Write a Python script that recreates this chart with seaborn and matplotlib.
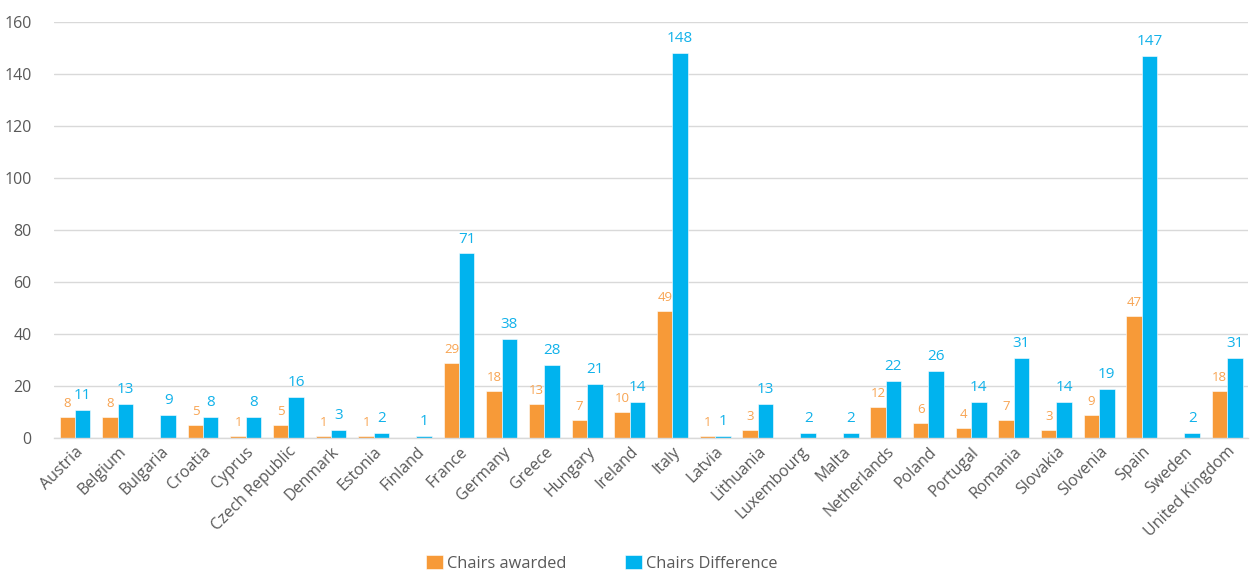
import matplotlib
matplotlib.use("Agg")
import matplotlib.pyplot as plt
import seaborn as sns
import pandas as pd

countries = ["Austria", "Belgium", "Bulgaria", "Croatia", "Cyprus", "Czech Republic",
             "Denmark", "Estonia", "Finland", "France", "Germany", "Greece", "Hungary",
             "Ireland", "Italy", "Latvia", "Lithuania", "Luxembourg", "Malta",
             "Netherlands", "Poland", "Portugal", "Romania", "Slovakia", "Slovenia",
             "Spain", "Sweden", "United Kingdom"]
chairs_awarded = [8, 8, 0, 5, 1, 5, 1, 1, 0, 29, 18, 13, 7, 10, 49, 1, 3, 0, 0,
                  12, 6, 4, 7, 3, 9, 47, 0, 18]
chairs_difference = [11, 13, 9, 8, 8, 16, 3, 2, 1, 71, 38, 28, 21, 14, 148, 1, 13, 2, 2,
                     22, 26, 14, 31, 14, 19, 147, 2, 31]
series_names = ["Chairs awarded", "Chairs Difference"]
y_ticks = [0, 20, 40, 60, 80, 100, 120, 140, 160]

ORANGE = "#F79A38"
BLUE = "#00B3EE"
ORANGE_TXT = "#F8A452"
BLUE_TXT = "#12B2EA"
GREY = "#595959"

df = pd.DataFrame({
    "country": countries * 2,
    "value": chairs_awarded + chairs_difference,
    "series": [series_names[0]] * len(countries) + [series_names[1]] * len(countries),
})

sns.set_theme(style="white")
plt.rcParams["font.family"] = ["Open Sans", "DejaVu Sans"]

fig = plt.figure(figsize=(12.51, 5.72), dpi=100)
ax = fig.add_axes([0.043, 0.234, 0.955, 0.7275])

sns.barplot(data=df, x="country", y="value", hue="series", order=countries,
            hue_order=series_names, palette=[ORANGE, BLUE], saturation=1, width=0.72,
            edgecolor="white", linewidth=0.4, errorbar=None, legend=True, ax=ax)

ax.set_ylim(0, 160)
ax.set_xlim(-0.5, len(countries) - 0.5)
ax.set_yticks(y_ticks)
ax.set_yticklabels([str(t) for t in y_ticks], fontsize=11.5, color=GREY)
ax.yaxis.grid(True, color="#D9D9D9", linewidth=1.0)
ax.set_axisbelow(True)
ax.set_xlabel("")
ax.set_ylabel("")
ax.tick_params(axis="y", length=0, pad=16)
ax.tick_params(axis="x", length=0, pad=4)
ax.set_xticks(range(len(countries)))
ax.set_xticklabels(countries, rotation=45, ha="right", rotation_mode="anchor",
                   fontsize=11.5, color=GREY)
for side in ["left", "right", "top"]:
    ax.spines[side].set_visible(False)
ax.spines["bottom"].set_color("#D9D9D9")
ax.spines["bottom"].set_linewidth(1.0)

for cont, vals, col, fs in zip(ax.containers, [chairs_awarded, chairs_difference],
                               [ORANGE_TXT, BLUE_TXT], [9.5, 11]):
    ax.bar_label(cont, labels=[str(v) if v else "" for v in vals],
                 padding=5, color=col, fontsize=fs)

handles, labels = ax.get_legend_handles_labels()
ax.legend_.remove()
fig.legend(handles, labels, loc="lower center", bbox_to_anchor=(0.481, -0.025),
           ncol=2, frameon=False, fontsize=11.8, handlelength=1.0, handleheight=1.0,
           handletextpad=0.25, columnspacing=3.6, labelcolor=GREY)

fig.savefig("out.png", dpi=100)
